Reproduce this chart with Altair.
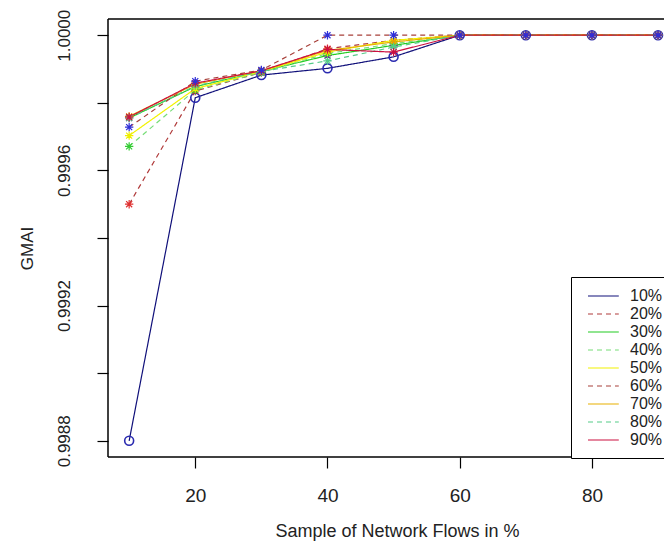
import altair as alt
import pandas as pd

# ---- data ----
x_values = [10, 20, 30, 40, 50, 60, 70, 80, 90]
series = ["10%", "20%", "30%", "40%", "50%", "60%", "70%", "80%", "90%"]

gmai_10 = [0.99880, 0.999815, 0.999882, 0.999902, 0.999936, 1.0, 1.0, 1.0, 1.0]
gmai_20 = [0.99950, 0.999835, 0.999890, 0.999960, 0.999985, 1.0, 1.0, 1.0, 1.0]
gmai_30 = [0.999755, 0.999848, 0.999893, 0.999940, 0.999970, 1.0, 1.0, 1.0, 1.0]
gmai_40 = [0.999671, 0.999838, 0.999890, 0.999946, 0.999975, 1.0, 1.0, 1.0, 1.0]
gmai_50 = [0.999703, 0.999842, 0.999893, 0.999950, 0.999985, 1.0, 1.0, 1.0, 1.0]
gmai_60 = [0.999728, 0.999864, 0.999897, 1.0, 1.0, 1.0, 1.0, 1.0, 1.0]
gmai_70 = [0.999760, 0.999855, 0.999895, 0.999955, 0.999980, 1.0, 1.0, 1.0, 1.0]
gmai_80 = [0.999755, 0.999850, 0.999893, 0.999924, 0.999965, 1.0, 1.0, 1.0, 1.0]
gmai_90 = [0.999758, 0.999858, 0.999895, 0.999958, 0.999950, 1.0, 1.0, 1.0, 1.0]

all_values = [gmai_10, gmai_20, gmai_30, gmai_40, gmai_50,
              gmai_60, gmai_70, gmai_80, gmai_90]

# ---- styles ----
line_colors = ["#10107a", "#b03a3a", "#22cc22", "#77dd77", "#f2f200",
               "#a8403a", "#e8b000", "#55cc88", "#cc1040"]
line_dashes = [[1, 0], [5, 4], [1, 0], [5, 4], [1, 0],
               [5, 4], [1, 0], [5, 4], [1, 0]]
point_colors = ["#2a2ab0", "#e03030", "#7a2a9a", "#33cc33", "#eeee00",
                "#2f2fd8", "#e8a000", "#55cc88", "#cc1040"]
point_order = [0, 1, 2, 3, 4, 9, 5, 6, 7]

rows = []
for i, (name, vals) in enumerate(zip(series, all_values)):
    for x, v in zip(x_values, vals):
        rows.append({"sample": x, "gmai": v, "series": name,
                     "pcolor": point_colors[i], "porder": point_order[i]})
df = pd.DataFrame(rows)

W, H = 556, 438
x_scale = alt.Scale(domain=[6.8, 90.9], nice=False, zero=False)
y_scale = alt.Scale(domain=[0.998752, 1.000048], nice=False, zero=False)

font = "Liberation Sans"

x_axis = alt.Axis(
    values=[20, 40, 60, 80], grid=False, domain=False, tickSize=11,
    tickColor="black", tickWidth=1.2, labelFontSize=19, labelFont=font,
    labelColor="#222222", labelPadding=18, title="Sample of Network Flows in %",
    titleFont=font, titleFontSize=18, titleFontWeight="normal",
    titleColor="#222222", titleX=289, titleY=74, titleBaseline="middle",
    titleAlign="center",
)
y_axis = alt.Axis(
    values=[0.9988, 0.9990, 0.9992, 0.9994, 0.9996, 0.9998, 1.0],
    labelExpr="round(datum.value*10000) % 4 == 0 ? format(datum.value, '.4f') : ''",
    grid=False, domain=False, tickSize=11, tickColor="black", tickWidth=1.2,
    labelFontSize=17, labelFont=font, labelColor="#222222", labelAngle=270,
    labelAlign="center", labelBaseline="bottom", labelPadding=24,
    title="GMAI", titleFont=font, titleFontSize=17, titleFontWeight="normal",
    titleColor="#222222", titleAngle=270, titleX=-81, titleY=229,
    titleBaseline="middle", titleAlign="center",
)

base = alt.Chart(df)

lines = base.mark_line(strokeWidth=1.2).encode(
    x=alt.X("sample:Q", scale=x_scale, axis=x_axis),
    y=alt.Y("gmai:Q", scale=y_scale, axis=y_axis),
    color=alt.Color(
        "series:N",
        scale=alt.Scale(domain=series, range=line_colors),
        legend=alt.Legend(
            title=None, orient="none", legendX=463, legendY=258,
            strokeColor="black", padding=10, symbolType="M-0.25,0L3.6,0",
            symbolSize=256, symbolStrokeWidth=1.2, labelFont=font,
            labelFontSize=16, labelColor="#222222", labelOffset=31,
            rowPadding=1, fillColor="white",
        ),
    ),
    strokeDash=alt.StrokeDash(
        "series:N", scale=alt.Scale(domain=series, range=line_dashes),
    ),
    detail="series:N",
)

circles = base.transform_filter(alt.datum.series == "10%").mark_point(
    shape="circle", size=80, filled=False, strokeWidth=1.6, opacity=1
).encode(
    x=alt.X("sample:Q", scale=x_scale),
    y=alt.Y("gmai:Q", scale=y_scale),
    color=alt.Color("pcolor:N", scale=None),
)

star_path = "M-1,0L1,0M0,-1L0,1M-0.72,-0.72L0.72,0.72M-0.72,0.72L0.72,-0.72"
stars = base.transform_filter(alt.datum.series != "10%").mark_point(
    shape=star_path, size=70, filled=False, strokeWidth=1.2, opacity=1
).encode(
    x=alt.X("sample:Q", scale=x_scale),
    y=alt.Y("gmai:Q", scale=y_scale),
    color=alt.Color("pcolor:N", scale=None),
    order=alt.Order("porder:Q"),
)

one = alt.Data(values=[{}])
box_top = alt.Chart(one).mark_rule(color="black", strokeWidth=1.5).encode(
    x=alt.value(0), x2=alt.value(700), y=alt.value(0))
box_left = alt.Chart(one).mark_rule(color="black", strokeWidth=1.5).encode(
    x=alt.value(0), y=alt.value(0), y2=alt.value(H))
box_bottom = alt.Chart(one).mark_rule(color="black", strokeWidth=1.5).encode(
    x=alt.value(0), x2=alt.value(700), y=alt.value(H))

chart = alt.layer(lines, circles, stars, box_top, box_left, box_bottom).properties(
    width=W, height=H,
    autosize=alt.AutoSizeParams(type="none"),
    padding={"left": 100, "top": 11, "right": 0, "bottom": 85},
    background="white",
).configure_view(stroke=None)

chart.save("out.html", embed_options={"renderer": "svg", "actions": False})
